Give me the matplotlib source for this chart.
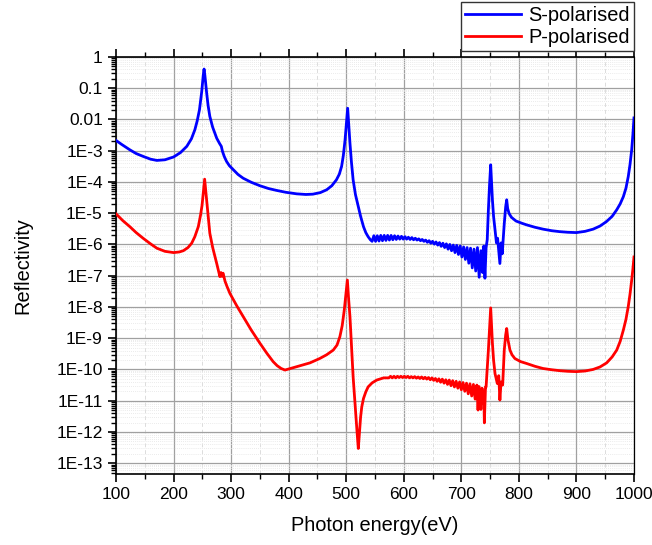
import numpy as np
import matplotlib.pyplot as plt
from matplotlib.ticker import LogLocator, FixedLocator, MultipleLocator

# Photon energy (eV) and log10(reflectivity)
s_energy = [100, 110, 124, 135, 147, 160, 171, 185, 200, 212, 223, 231, 237, 241, 245, 249,
            251.5, 253, 254.5, 257.5, 260, 263, 268, 275, 280, 283, 285, 288, 292, 297, 304,
            312, 321, 335, 350, 365, 379, 395, 414, 430, 442, 455, 466, 475, 483, 488, 492,
            495, 498, 500.5, 502.5, 504.5, 506.5, 509, 512, 516, 521, 525, 530, 534, 538, 542,
            545, 548, 551, 554, 557, 560, 563, 566, 569, 572, 575, 578, 581, 584, 587, 590,
            593, 596, 599, 602, 605, 608, 611, 614, 617, 620, 623, 626, 629, 632, 635, 638,
            641, 644, 647, 650, 653, 656, 659, 662, 665, 668, 671, 674, 677, 680, 683, 686,
            689, 692, 695, 698, 701, 704, 707, 710, 713, 716, 719, 722, 725, 728, 731, 734,
            737, 739, 741, 743, 745,
            747, 749, 751, 752.5, 754, 756, 758.5, 761, 763, 765, 767, 769, 771, 772.5, 774.6,
            777, 778.8, 780.5, 783, 787, 795, 805, 813, 828, 842, 857, 871, 885, 900, 915,
            929, 941, 952, 962, 970, 976, 981.5, 986, 990, 993, 996, 998, 1000]
s_log = [-2.67, -2.80, -2.97, -3.09, -3.18, -3.27, -3.31, -3.29, -3.20, -3.06, -2.86, -2.62,
         -2.33, -2.05, -1.69, -1.10,
         -0.60, -0.385, -0.60, -1.15, -1.55, -1.90, -2.25, -2.60, -2.77, -2.86, -3.02, -3.18,
         -3.34, -3.48, -3.61,
         -3.76, -3.88, -4.01, -4.12, -4.21, -4.27, -4.33, -4.38, -4.40, -4.39, -4.34, -4.25,
         -4.12, -3.93, -3.75, -3.50,
         -3.15, -2.65, -2.10, -1.64, -2.20, -2.76, -3.35, -3.93, -4.40, -4.79, -5.10, -5.43,
         -5.62, -5.75, -5.85,
         -5.90, -5.72, -5.90, -5.72, -5.89, -5.71, -5.88, -5.71, -5.87, -5.71, -5.86, -5.71,
         -5.85, -5.72, -5.84, -5.73, -5.83, -5.74, -5.83, -5.75, -5.83, -5.77, -5.84, -5.78,
         -5.85, -5.80, -5.86, -5.82, -5.88, -5.84, -5.90, -5.86, -5.93, -5.88, -5.96, -5.90,
         -5.99, -5.92, -6.02, -5.94, -6.06, -5.96, -6.10, -5.98, -6.15, -6.00, -6.20, -6.02,
         -6.26, -6.03, -6.32, -6.05, -6.40, -6.08, -6.48, -6.10, -6.60, -6.12, -6.75, -6.15,
         -6.85, -6.10, -7.05, -6.20, -6.90, -6.05, -7.08, -6.10, -5.85,
         -4.89, -4.10, -3.45, -4.00, -4.57, -5.10, -5.53, -5.95, -5.80, -6.20, -6.61, -5.95,
         -6.30, -5.90, -5.33,
         -4.80, -4.57, -4.85, -5.01, -5.13, -5.25, -5.32, -5.37, -5.45, -5.51, -5.56, -5.59,
         -5.61, -5.62, -5.58,
         -5.51, -5.41, -5.27, -5.10, -4.89, -4.70, -4.47, -4.20, -3.83, -3.45, -2.97, -2.50,
         -1.95]

p_energy = [100, 112, 124, 135, 147, 160, 171, 185, 200, 210, 217, 225, 231.5, 237, 243,
            247, 249.5, 252, 254, 255.5, 257.5, 260, 263, 268, 275,
            280.5, 282.5, 284, 286, 289.5, 293, 298, 310, 321, 335, 350, 362, 373, 380, 387,
            393.6, 403, 414, 425, 437, 454, 466, 477.5, 484, 489, 493, 496.6, 499.5, 502, 504,
            506.5, 509, 512, 514.5, 517, 519, 521, 523, 525, 527, 530, 534, 538, 545, 553, 565,
            574, 577, 580, 583, 586, 589, 592, 595, 598, 601, 604, 607, 610, 613, 616, 619,
            622, 625, 628, 631, 634, 637, 640, 643, 646, 649, 652, 655, 658, 661, 664, 667,
            670, 673, 676, 679, 682, 685, 688, 691, 694, 697, 700, 703, 706, 709, 712, 715,
            718, 721, 724, 727, 729, 731, 734, 736, 738, 739, 740, 742,
            743, 747, 749, 751, 752.5, 754, 756, 758.5, 762.5, 765, 767, 769, 771.8, 774.6,
            777, 778.8, 781, 784.5, 788, 793, 803, 813.5, 828, 842, 857, 871, 885, 900, 915,
            929, 941, 952.5, 962, 970, 976, 981.5, 986, 990, 993, 996, 998, 1000]
p_log = [-5.02, -5.24, -5.43, -5.62, -5.80, -5.98, -6.12, -6.22, -6.26, -6.24, -6.20, -6.10,
         -5.96, -5.75, -5.43,
         -5.05, -4.75, -4.30, -3.91, -4.20, -4.57, -5.10, -5.64, -6.10, -6.61,
         -7.03, -6.90, -7.02, -6.92, -7.18, -7.35, -7.57, -7.97, -8.31, -8.74, -9.16, -9.48,
         -9.75, -9.88, -9.97,
         -10.02, -9.97, -9.91, -9.85, -9.79, -9.65, -9.53, -9.38, -9.22, -8.95, -8.60, -8.10,
         -7.60, -7.14, -7.70,
         -8.31, -9.20, -10.24, -10.90, -11.52, -12.05, -12.53, -12.00, -11.52, -11.20,
         -10.93, -10.72, -10.56, -10.43, -10.34, -10.27,
         -10.27, -10.22, -10.27, -10.22, -10.27, -10.22, -10.26, -10.22, -10.26, -10.22,
         -10.26, -10.22, -10.27, -10.23, -10.27, -10.23, -10.28, -10.24, -10.29, -10.24,
         -10.30, -10.25, -10.31, -10.26, -10.33, -10.27, -10.35, -10.29, -10.38, -10.30,
         -10.41, -10.31, -10.44, -10.33, -10.48, -10.34, -10.52, -10.36, -10.56, -10.38,
         -10.60, -10.40, -10.65, -10.42, -10.70, -10.44, -10.78, -10.46, -10.85, -10.48,
         -10.95, -10.50, -11.30, -10.55, -11.28, -10.60, -11.10, -10.70, -11.71, -10.56,
         -10.56, -9.38, -8.70, -8.03, -8.60, -9.16, -9.70, -10.13, -10.45, -10.20, -10.98,
         -10.40, -10.50, -9.38,
         -8.90, -8.69, -9.05, -9.38, -9.53, -9.65, -9.75, -9.81, -9.90, -9.97, -10.01,
         -10.04, -10.06, -10.07, -10.05,
         -10.00, -9.92, -9.79, -9.60, -9.38, -9.10, -8.74, -8.40, -7.99, -7.60, -7.14, -6.80,
         -6.40]

y_ticks = [1, 0.1, 0.01, 1e-3, 1e-4, 1e-5, 1e-6, 1e-7, 1e-8, 1e-9, 1e-10, 1e-11, 1e-12, 1e-13]
y_labels = ["1", "0.1", "0.01", "1E-3", "1E-4", "1E-5", "1E-6", "1E-7", "1E-8", "1E-9",
            "1E-10", "1E-11", "1E-12", "1E-13"]

plt.rcParams['font.family'] = ['Liberation Sans', 'DejaVu Sans']

fig = plt.figure(figsize=(6.52, 5.45), dpi=100)
ax = fig.add_axes([116 / 652, 1 - 474 / 545, 518 / 652, 417 / 545])

s_ref = 10 ** np.array(s_log)
p_ref = 10 ** np.array(p_log)
ax.plot(s_energy, s_ref, color="#0000ff", lw=2.0, label="S-polarised", zorder=3)
ax.plot(p_energy, p_ref, color="#ff0000", lw=2.0, label="P-polarised", zorder=3)

ax.set_yscale("log")
ax.set_xlim(100, 1000)
ax.set_ylim(4.5e-14, 1)

ax.xaxis.set_major_locator(MultipleLocator(100))
ax.xaxis.set_minor_locator(MultipleLocator(50))
ax.yaxis.set_major_locator(FixedLocator(y_ticks))
ax.set_yticklabels(y_labels)
ax.yaxis.set_minor_locator(LogLocator(base=10, subs=np.arange(2, 10), numticks=30))
ax.yaxis.set_minor_formatter(plt.NullFormatter())

ax.grid(which="major", color="#a0a0a0", lw=0.9, zorder=0)
ax.grid(which="minor", axis="x", color="#dcdcdc", lw=0.7, ls=(0, (4, 3)), zorder=0)
ax.grid(which="minor", axis="y", color="#e4e4e4", lw=0.6, ls=(0, (1, 1.5)), zorder=0)
ax.set_axisbelow(True)

ax.tick_params(which="major", direction="out", length=6, width=1.2, labelsize=12.5,
               top=True, right=False)
ax.tick_params(which="minor", direction="out", length=3.5, width=1.0, top=True, right=False)
for sp in ax.spines.values():
    sp.set_linewidth(1.2)
ax.spines["right"].set_linewidth(0.9)

ax.set_xlabel("Photon energy(eV)", fontsize=14.4, labelpad=10)
ax.set_ylabel("Reflectivity", fontsize=14.4, labelpad=17)

fig.legend(loc="upper right", bbox_to_anchor=(634 / 652, 1 - 2 / 545), fontsize=14.4,
           frameon=True, fancybox=False, edgecolor="#333333", framealpha=1,
           borderpad=0.2, labelspacing=0.15, handlelength=2.8, handletextpad=0.4,
           borderaxespad=0)

fig.savefig("out.png", dpi=100)
